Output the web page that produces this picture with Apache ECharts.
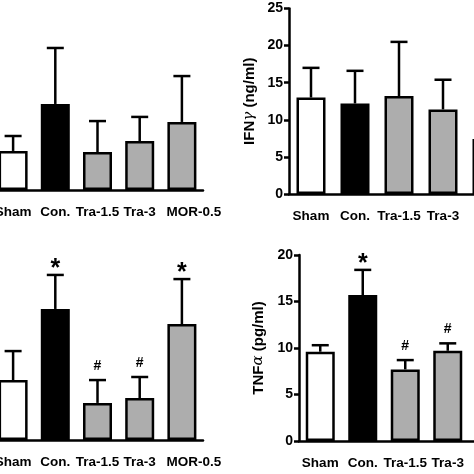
<!DOCTYPE html>
<html>
<head>
<meta charset="utf-8">
<script src="https://cdn.jsdelivr.net/npm/echarts@6/dist/echarts.min.js"></script>
<style>
  html, body { margin: 0; padding: 0; background: #fff; }
  #chart { width: 474px; height: 474px; }
</style>
</head>
<body>
<div id="chart"></div>
<script>
// groups shared by all four panels
var categories = ['Sham', 'Con.', 'Tra-1.5', 'Tra-3', 'MOR-0.5'];
var barColors = ['#ffffff', '#000000', '#adadad', '#adadad', '#adadad'];

// top-left panel (its y axis is cut off, values in relative units)
var tlMean = [21.7, 47.8, 21.1, 27.2, 37.8];
var tlErr  = [8.3, 31.1, 17.2, 13.4, 25.5];
var tlMark = ['', '', '', '', ''];

// top-right panel: IFNγ (ng/ml)
var ifnMean = [13.0, 12.2, 13.2, 11.4, 7.4];
var ifnErr  = [4.0, 4.4, 7.3, 4.0, 3.0];
var ifnMark = ['', '', '', '', ''];
var ifnTicks = [0, 5, 10, 15, 20, 25];

// bottom-left panel (y axis cut off, relative units)
var blMean = [33.3, 72.8, 20.6, 23.3, 64.4];
var blErr  = [16.1, 18.9, 12.7, 11.7, 25.0];
var blMark = ['', '*', '#', '#', '*'];

// bottom-right panel: TNFα (pg/ml)
var tnfMean = [9.6, 15.7, 7.7, 9.7, 14.0];
var tnfErr  = [0.7, 2.7, 1.0, 0.8, 2.0];
var tnfMark = ['', '*', '#', '#', '*'];
var tnfTicks = [0, 5, 10, 15, 20];

var FONT = 'Liberation Sans, Arial, sans-serif';

// one-sided error bar + significance mark
function errorItem(means, errs, marks) {
  return function (params, api) {
    var i = api.value(0);
    var base = api.coord([i, means[i]]);
    var top = api.coord([i, means[i] + errs[i]]);
    var half = 8.5;
    var st = { stroke: '#000', lineWidth: 2.5 };
    var kids = [
      { type: 'line', shape: { x1: top[0], y1: base[1], x2: top[0], y2: top[1] }, style: st },
      { type: 'line', shape: { x1: top[0] - half, y1: top[1], x2: top[0] + half, y2: top[1] }, style: st }
    ];
    var m = marks[i];
    if (m) {
      var star = m === '*';
      kids.push({
        type: 'text',
        style: {
          text: m, x: top[0], y: top[1] - (star ? 6 : 14),
          align: 'center', verticalAlign: 'middle',
          fontSize: star ? 25 : 14, fontWeight: 'bold', fontFamily: FONT, fill: '#000'
        }
      });
    }
    return { type: 'group', children: kids };
  };
}

// the right-hand panels are cut off before the MOR-0.5 label
function xAxisFor(gridIndex, cutLast) {
  return {
    type: 'category', gridIndex: gridIndex, data: categories,
    axisLine: { lineStyle: { color: '#000', width: 2.5 } },
    axisTick: { alignWithLabel: true, length: 5, lineStyle: { color: '#000', width: 2.5 } },
    axisLabel: {
      interval: 0, margin: 15, color: '#000', fontSize: 13.5, fontWeight: 'bold', fontFamily: FONT,
      formatter: function (v) {
        if (v !== 'MOR-0.5') return v;
        return cutLast ? '' : '{m|' + v + '}';
      },
      rich: { m: { padding: [0, 0, 0, 24], color: '#000', fontSize: 13.5, fontWeight: 'bold', fontFamily: FONT } }
    }
  };
}

function yAxisFor(gridIndex, ticks, name, sym, gap) {
  if (!ticks) {
    return { type: 'value', gridIndex: gridIndex, min: 0, max: 100, show: false };
  }
  return {
    type: 'value', gridIndex: gridIndex,
    min: ticks[0], max: ticks[ticks.length - 1], interval: ticks[1] - ticks[0],
    name: name + '{g|' + sym + '} (' + (sym === 'γ' ? 'ng/ml' : 'pg/ml') + ')',
    nameLocation: 'middle', nameGap: gap, nameRotate: 90,
    nameTextStyle: {
      color: '#000', fontSize: 15, fontWeight: 'bold', fontFamily: FONT,
      rich: { g: { fontSize: 15, fontWeight: 'normal', fontStyle: 'italic', fontFamily: 'DejaVu Serif', color: '#000' } }
    },
    axisLine: { show: true, lineStyle: { color: '#000', width: 2.5 } },
    axisTick: { show: true, length: 5, lineStyle: { color: '#000', width: 2.5 } },
    axisLabel: { margin: 6, color: '#000', fontSize: 14, fontWeight: 'bold', fontFamily: FONT },
    splitLine: { show: false }
  };
}

function barSeries(idx, means) {
  return {
    type: 'bar', xAxisIndex: idx, yAxisIndex: idx, barWidth: 29,
    data: means.map(function (v, i) {
      return { value: v, itemStyle: { color: barColors[i], borderColor: '#000', borderWidth: 2.5 } };
    }),
    silent: true
  };
}

function errSeries(idx, means, errs, marks) {
  return {
    type: 'custom', xAxisIndex: idx, yAxisIndex: idx, z: 5, clip: false,
    renderItem: errorItem(means, errs, marks),
    data: means.map(function (v, i) { return [i, v + errs[i]]; }),
    silent: true
  };
}

var chart = echarts.init(document.getElementById('chart'));
chart.setOption({
  animation: false,
  backgroundColor: '#fff',
  grid: [
    { left: -8, top: 10, width: 211, height: 180, outerBoundsMode: 'none', containLabel: false },
    { left: 289, top: 8.5, width: 220, height: 185.5, outerBoundsMode: 'none', containLabel: false },
    { left: -8, top: 260, width: 211, height: 180, outerBoundsMode: 'none', containLabel: false },
    { left: 299, top: 255, width: 212.5, height: 186, outerBoundsMode: 'none', containLabel: false }
  ],
  xAxis: [xAxisFor(0, false), xAxisFor(1, true), xAxisFor(2, false), xAxisFor(3, true)],
  yAxis: [
    yAxisFor(0, null),
    yAxisFor(1, ifnTicks, 'IFN', 'γ', 32),
    yAxisFor(2, null),
    yAxisFor(3, tnfTicks, 'TNF', 'α', 33)
  ],
  series: [
    barSeries(0, tlMean), errSeries(0, tlMean, tlErr, tlMark),
    barSeries(1, ifnMean), errSeries(1, ifnMean, ifnErr, ifnMark),
    barSeries(2, blMean), errSeries(2, blMean, blErr, blMark),
    barSeries(3, tnfMean), errSeries(3, tnfMean, tnfErr, tnfMark)
  ]
});
</script>
</body>
</html>
